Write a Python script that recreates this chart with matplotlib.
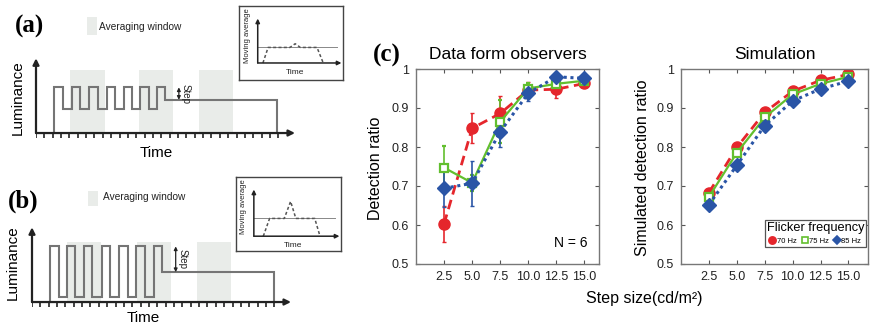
import matplotlib
matplotlib.use("Agg")
import matplotlib.pyplot as plt
from matplotlib.patches import Rectangle
from matplotlib.lines import Line2D

W, H = 872, 331
plt.rcParams['font.family'] = ['Liberation Sans', 'DejaVu Sans']

# --- données (c) ---
steps = [2.5, 5.0, 7.5, 10.0, 12.5, 15.0]
step_labels = ['2.5', '5.0', '7.5', '10.0', '12.5', '15.0']
freq_labels = ['70 Hz', '75 Hz', '85 Hz']

obs_70 = [0.603, 0.848, 0.886, 0.946, 0.948, 0.963]
obs_70_err = [0.047, 0.038, 0.045, 0.020, 0.022, 0.010]
obs_75 = [0.747, 0.708, 0.865, 0.950, 0.962, 0.970]
obs_75_err = [0.055, 0.020, 0.055, 0.015, 0.010, 0.010]
obs_85 = [0.694, 0.707, 0.839, 0.938, 0.980, 0.976]
obs_85_err = [0.047, 0.058, 0.040, 0.020, 0.010, 0.010]

sim_70 = [0.683, 0.799, 0.889, 0.943, 0.971, 0.986]
sim_75 = [0.672, 0.785, 0.876, 0.935, 0.962, 0.980]
sim_85 = [0.652, 0.753, 0.855, 0.918, 0.949, 0.969]

# --- schémas (a) et (b) : fronts du signal (en graduations) ---
edges_a = [2.1, 3.2, 4.3, 5.3, 6.3, 7.4, 8.5, 9.5, 10.5, 11.5, 12.5, 13.5, 14.5, 15.5]
end_a = 28.9
levels_a = [0.55, 0.29, 0.40]   # haut, bas, après le step
windows_a = [(4.1, 8.3), (12.3, 16.4), (19.5, 23.6)]

edges_b = [2.2, 3.2, 4.2, 5.2, 6.2, 7.2, 8.35, 9.35, 10.45, 11.5, 12.5, 13.55, 14.55, 15.55]
end_b = 29.0
levels_b = [0.67, 0.06, 0.36]
windows_b = [(4.2, 8.2), (12.6, 16.6), (19.8, 23.8)]

# moyenne glissante des encarts
inset_a_t = [0.23, 0.28, 0.49, 0.54, 0.59, 0.75, 0.81]
inset_a_v = [0.23, 0.44, 0.44, 0.49, 0.44, 0.44, 0.23]
inset_b_t = [0.26, 0.32, 0.46, 0.52, 0.57, 0.75, 0.80]
inset_b_v = [0.20, 0.44, 0.44, 0.67, 0.44, 0.44, 0.20]

RED = '#e5262c'
GREEN = '#62bf2e'
BLUE = '#2a55a6'
DARK = '#222222'
SIG = '#757575'
WIN = '#e9ece9'

fig = plt.figure(figsize=(8.72, 3.31), dpi=100)


def px_axes(x0, y0, x1, y1):
    return fig.add_axes([x0 / W, 1 - y1 / H, (x1 - x0) / W, (y1 - y0) / H])


def fig_text(x, y, s, **kw):
    fig.text(x / W, 1 - y / H, s, **kw)


def arrow(ax, x0, y0, x1, y1, lw=1.6, ms=9, color=DARK):
    ax.annotate('', xy=(x1, y1), xytext=(x0, y0),
                arrowprops=dict(arrowstyle='-|>', color=color, lw=lw,
                                mutation_scale=ms, shrinkA=0, shrinkB=0))


def draw_signal(ax, edges, end, levels, windows, win_top, step_x):
    hi, lo, after = levels
    ax.set_xlim(0, 31.6)
    ax.set_ylim(-0.084, 1.0)
    ax.axis('off')
    for s, e in windows:
        ax.add_patch(Rectangle((s, 0), e - s, win_top, facecolor=WIN,
                               edgecolor='none', zorder=0))
    t = [edges[0]]
    v = [0]
    prev = 0
    for k, e in enumerate(edges):
        new = after if k == len(edges) - 1 else (hi if k % 2 == 0 else lo)
        t += [e, e]
        v += [prev, new]
        prev = new
    t += [end, end]
    v += [after, 0]
    ax.plot(t, v, color=SIG, lw=1.5, solid_joinstyle='miter', zorder=2)
    ax.vlines(range(30), -0.055, 0, color=DARK, lw=1.2, zorder=3)
    arrow(ax, 0, 0, 0, 0.9)
    arrow(ax, 0, 0, 31.0, 0)
    ax.annotate('', xy=(step_x, hi), xytext=(step_x, after),
                arrowprops=dict(arrowstyle='<|-|>', color=DARK, lw=0.9,
                                mutation_scale=5, shrinkA=0, shrinkB=0))
    ax.text(step_x + 0.8, (hi + after) / 2, 'Step', rotation=270,
            ha='center', va='center', fontsize=7, color=DARK)


def draw_inset(rect, ox, oy, t, v):
    ax = px_axes(*rect)
    ax.set_xlim(0, 1)
    ax.set_ylim(0, 1)
    ax.set_xticks([])
    ax.set_yticks([])
    for sp in ax.spines.values():
        sp.set_color('#444444')
        sp.set_linewidth(1.0)
    ax.plot([ox, 0.94], [0.45, 0.45], color='#888888', lw=0.7)
    ax.plot(t, v, color='#555555', lw=1.1, ls=(0, (2, 1.5)))
    arrow(ax, ox, oy, ox, 0.83, lw=1.1, ms=6)
    arrow(ax, ox, oy, 0.985, oy, lw=1.1, ms=6)
    ax.text(ox - 0.1, 0.6, 'Moving average', rotation=90, ha='center',
            va='center', fontsize=5.5, color=DARK)
    ax.text(0.54, oy - 0.13, 'Time', ha='center', va='center',
            fontsize=6, color=DARK)


# ---------- (a) ----------
ax_a = px_axes(36, 50, 300, 140)
draw_signal(ax_a, edges_a, end_a, levels_a, windows_a, 0.76, 17.1)
draw_inset((239, 6, 343, 80), 0.18, 0.23, inset_a_t, inset_a_v)
fig_text(29, 26, '(a)', family=['Liberation Serif'], weight='bold',
         fontsize=18, ha='center', va='center')
fig.patches.append(Rectangle((87 / W, 1 - 35 / H), 10 / W, 18 / H,
                             transform=fig.transFigure, facecolor=WIN,
                             edgecolor='none'))
fig_text(99, 27, 'Averaging window', fontsize=7.3, va='center', color=DARK)
fig_text(18, 98, 'Luminance', rotation=90, fontsize=11, ha='center', va='center')
fig_text(156, 153, 'Time', fontsize=11, ha='center', va='center')

# ---------- (b) ----------
ax_b = px_axes(32, 219, 296, 309)
draw_signal(ax_b, edges_b, end_b, levels_b, windows_b, 0.72, 17.2)
draw_inset((236, 177, 341, 251), 0.17, 0.20, inset_b_t, inset_b_v)
fig_text(23, 201, '(b)', family=['Liberation Serif'], weight='bold',
         fontsize=18, ha='center', va='center')
fig.patches.append(Rectangle((88 / W, 1 - 206 / H), 10 / W, 15 / H,
                             transform=fig.transFigure, facecolor=WIN,
                             edgecolor='none'))
fig_text(103, 197, 'Averaging window', fontsize=7.3, va='center', color=DARK)
fig_text(13, 263, 'Luminance', rotation=90, fontsize=11, ha='center', va='center')
fig_text(143, 318, 'Time', fontsize=11, ha='center', va='center')

# ---------- (c) ----------
ax1 = px_axes(416, 69, 599, 264)
ax2 = px_axes(681, 69, 868, 264)

styles = [
    dict(color=RED, ls=(0, (3.5, 2)), lw=2.0, marker='o', ms=8, mfc=RED, mec=RED),
    dict(color=GREEN, ls='-', lw=1.6, marker='s', ms=6, mfc='white', mec=GREEN, mew=1.6),
    dict(color=BLUE, ls=(0, (1, 1.2)), lw=2.2, marker='D', ms=7, mfc=BLUE, mec=BLUE),
]

obs = [(obs_70, obs_70_err), (obs_75, obs_75_err), (obs_85, obs_85_err)]
for (vals, err), st in zip(obs, styles):
    ax1.errorbar(steps, vals, yerr=err, ecolor=st['color'], elinewidth=1.2,
                 capsize=1.5, capthick=1.0, **st)

for vals, st in zip([sim_70, sim_75, sim_85], styles):
    ax2.plot(steps, vals, **st)

for ax, xmax in [(ax1, 16.3), (ax2, 16.75)]:
    ax.set_xlim(0, xmax)
    ax.set_ylim(0.5, 1.0)
    ax.set_xticks(steps)
    ax.set_xticklabels(step_labels)
    ax.set_yticks([0.5, 0.6, 0.7, 0.8, 0.9, 1.0])
    ax.set_yticklabels(['0.5', '0.6', '0.7', '0.8', '0.9', '1'])
    ax.tick_params(direction='in', top=True, right=True, length=3,
                   width=0.8, labelsize=9, colors='#555555', labelcolor='#222222',
                   pad=5)
    for sp in ax.spines.values():
        sp.set_color('#777777')
        sp.set_linewidth(1.0)

ax1.set_title('Data form observers', fontsize=12.5, pad=7)
ax2.set_title('Simulation', fontsize=12.5, pad=7)
ax1.text(0.848, 0.108, 'N = 6', transform=ax1.transAxes, fontsize=10,
         ha='center', va='center')

handles = [Line2D([], [], ls='none', marker=st['marker'], ms=st['ms'] * 0.65,
                  mfc=st['mfc'], mec=st['mec'], mew=1.2) for st in styles]
leg = ax2.legend(handles, freq_labels, title='Flicker frequency', ncol=3,
                 loc='lower right', bbox_to_anchor=(0.989, 0.087),
                 borderaxespad=0, fontsize=5.5, title_fontsize=9.2,
                 handlelength=0.8, handletextpad=0.15, columnspacing=0.7,
                 borderpad=0.25, fancybox=False, edgecolor='#555555',
                 framealpha=1)
leg.get_frame().set_linewidth(0.9)

fig_text(387, 55, '(c)', family=['Liberation Serif'], weight='bold',
         fontsize=18, ha='center', va='center')
fig_text(375, 168, 'Detection ratio', rotation=90, fontsize=11.5,
         ha='center', va='center')
fig_text(642, 168, 'Simulated detection ratio', rotation=90, fontsize=11.5,
         ha='center', va='center')
fig_text(644, 299, 'Step size(cd/m²)', fontsize=11.5, ha='center', va='center')

fig.savefig('out.png', dpi=100)
